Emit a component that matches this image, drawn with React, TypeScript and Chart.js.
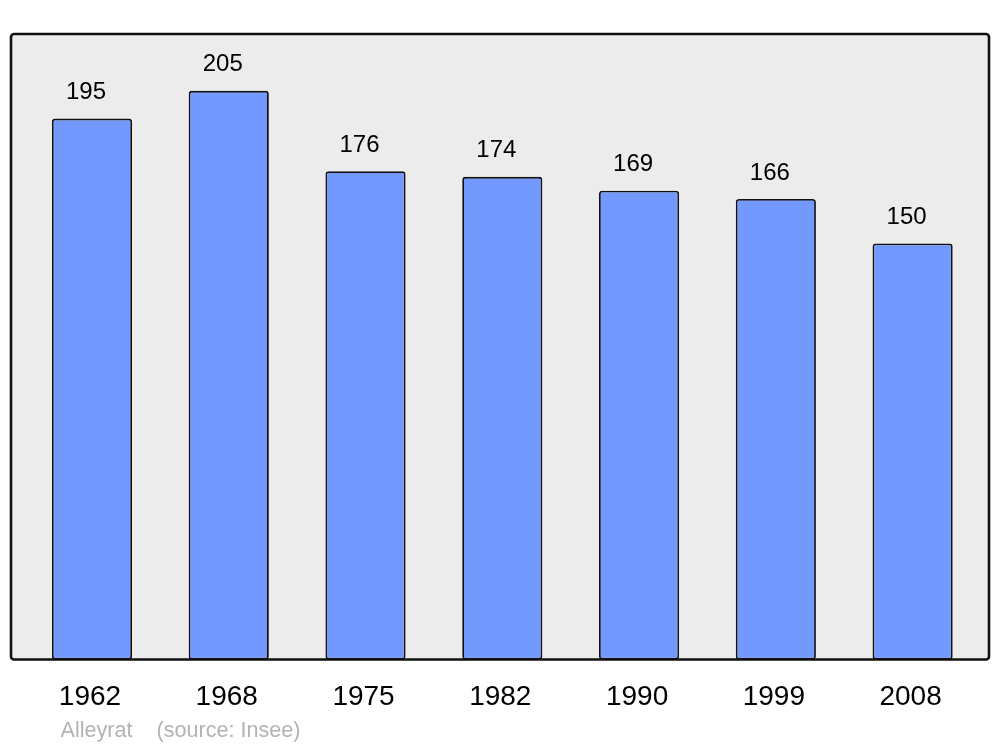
import React, { useEffect, useRef } from "react";
import { Chart, registerables } from "chart.js";

Chart.register(...registerables);

const years: string[] = ["1962", "1968", "1975", "1982", "1990", "1999", "2008"];
const population: number[] = [195, 205, 176, 174, 169, 166, 150];
const footerName = "Alleyrat";
const footerSource = "(source: Insee)";

const FONT = '"Liberation Sans", Arial, sans-serif';

const decorPlugin = {
  id: "decor",
  beforeDatasetsDraw(chart: any) {
    const { ctx, chartArea } = chart;
    const l = chartArea.left - 12.6;
    const r = chartArea.right + 8;
    const t = chartArea.top;
    const b = chartArea.bottom;
    ctx.save();
    ctx.fillStyle = "#ececec";
    ctx.beginPath();
    ctx.roundRect(l, t, r - l, b - t, 3);
    ctx.fill();
    ctx.restore();
  },
  afterDatasetsDraw(chart: any) {
    const { ctx, chartArea } = chart;
    const l = chartArea.left - 12.6;
    const r = chartArea.right + 8;
    const t = chartArea.top;
    const b = chartArea.bottom;
    ctx.save();
    ctx.strokeStyle = "#111111";
    ctx.lineWidth = 2.6;
    ctx.beginPath();
    ctx.roundRect(l, t, r - l, b - t, 3);
    ctx.stroke();

    // value labels
    const meta = chart.getDatasetMeta(0);
    ctx.fillStyle = "#000000";
    ctx.textAlign = "center";
    ctx.textBaseline = "alphabetic";
    ctx.font = `24px ${FONT}`;
    meta.data.forEach((bar: any, i: number) => {
      ctx.fillText(String(population[i]), bar.x - 6, bar.y - 19.5);
    });

    // category labels
    ctx.font = `28px ${FONT}`;
    const xs = chart.scales.x;
    years.forEach((y, i) => {
      ctx.fillText(y, xs.getPixelForValue(i) - 2, b + 45.5);
    });

    // footer
    ctx.textAlign = "left";
    ctx.fillStyle = "#b3b3b3";
    ctx.font = `21.6px ${FONT}`;
    ctx.fillText(footerName, 60.5, b + 77.5);
    ctx.fillText(footerSource, 156.5, b + 77.5);
    ctx.restore();
  },
};

export default function App() {
  const canvasRef = useRef<HTMLCanvasElement | null>(null);

  useEffect(() => {
    document.body.style.margin = "0";
    const canvas = canvasRef.current;
    if (!canvas) return;
    const chart = new Chart(canvas, {
      type: "bar",
      data: {
        labels: years,
        datasets: [
          {
            data: population,
            backgroundColor: "#7399ff",
            borderColor: "#111111",
            borderWidth: 1.8,
            borderRadius: 3,
            borderSkipped: false,
            barPercentage: 0.586,
            categoryPercentage: 1,
          },
        ],
      },
      options: {
        responsive: false,
        animation: false,
        devicePixelRatio: 1,
        layout: {
          padding: { left: 23.6, right: 19, top: 34, bottom: 87.5 },
        },
        plugins: {
          legend: { display: false },
          tooltip: { enabled: false },
          title: { display: false },
        },
        scales: {
          x: {
            display: false,
            offset: true,
            grid: { display: false },
          },
          y: {
            display: false,
            min: 0,
            max: 225.5,
            grid: { display: false },
          },
        },
      },
      plugins: [decorPlugin],
    });
    return () => chart.destroy();
  }, []);

  return (
    <div style={{ position: "absolute", left: 0, top: 0, width: 1000, height: 747, background: "#ffffff" }}>
      <canvas ref={canvasRef} width={1000} height={747} style={{ display: "block" }} />
    </div>
  );
}
